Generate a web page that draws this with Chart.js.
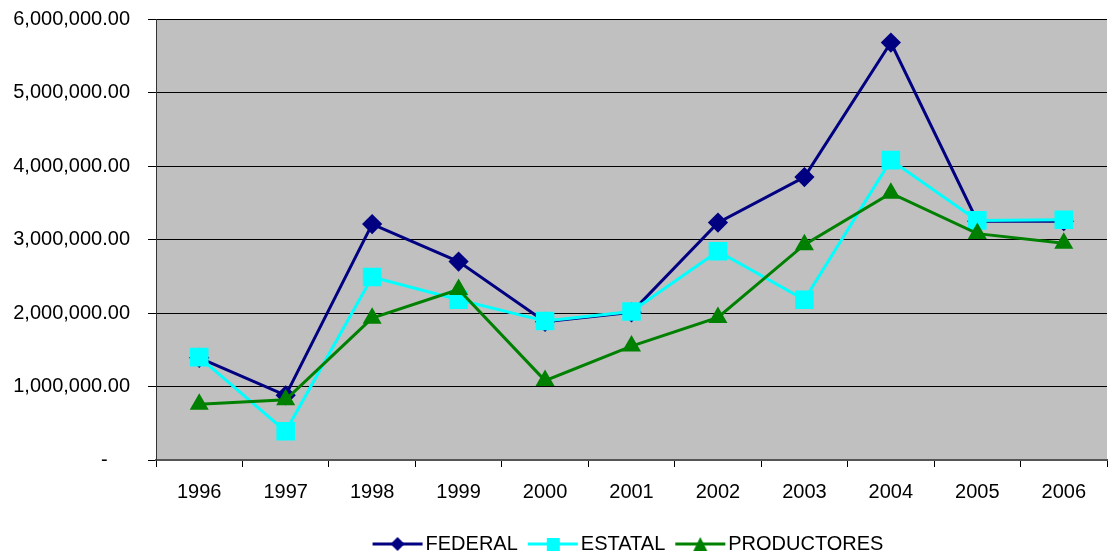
<!DOCTYPE html>
<html>
<head>
<meta charset="utf-8">
<script src="https://cdn.jsdelivr.net/npm/chart.js@4/dist/chart.umd.min.js"></script>
<style>
    html, body { margin: 0; padding: 0; background: #ffffff; overflow: hidden; }
    #wrap { width: 1109px; height: 554px; }
</style>
</head>
<body>
<div id="wrap"><canvas id="lineChart"></canvas></div>
<script>
const years = ['1996', '1997', '1998', '1999', '2000', '2001', '2002', '2003', '2004', '2005', '2006'];
const federal = [1390000, 880000, 3210000, 2700000, 1880000, 2010000, 3230000, 3850000, 5680000, 3250000, 3250000];
const estatal = [1400000, 390000, 2490000, 2180000, 1890000, 2020000, 2840000, 2180000, 4080000, 3260000, 3270000];
const productores = [760000, 820000, 1930000, 2320000, 1080000, 1550000, 1940000, 2930000, 3630000, 3080000, 2950000];

const fontFamily = '"Liberation Sans", Arial, sans-serif';

// little line + marker pictures for the legend
function legendIcon(color, style) {
    const c = document.createElement('canvas');
    c.width = 52;
    c.height = 20;
    const g = c.getContext('2d');
    g.strokeStyle = color;
    g.lineWidth = 3;
    g.beginPath();
    g.moveTo(1, 10);
    g.lineTo(51, 10);
    g.stroke();
    g.fillStyle = color;
    g.beginPath();
    if (style === 'diamond') {
        g.moveTo(26, 3); g.lineTo(33, 10); g.lineTo(26, 17); g.lineTo(19, 10);
    } else if (style === 'square') {
        g.rect(20, 4, 13, 13);
    } else {
        g.moveTo(26, 3); g.lineTo(33, 17); g.lineTo(19, 17);
    }
    g.closePath();
    g.fill();
    return c;
}

const icons = [
    legendIcon('#000080', 'diamond'),
    legendIcon('#00FFFF', 'square'),
    legendIcon('#008000', 'triangle')
];

const plotBackground = {
    id: 'plotBackground',
    beforeDraw(chart) {
        const a = chart.chartArea;
        const ctx = chart.ctx;
        ctx.save();
        ctx.fillStyle = '#C0C0C0';
        ctx.fillRect(a.left, a.top, a.right - a.left, a.bottom - a.top);
        ctx.restore();
    }
};

const ctx = document.getElementById('lineChart').getContext('2d');
new Chart(ctx, {
    type: 'line',
    data: {
        labels: years,
        datasets: [{
            label: 'FEDERAL',
            data: federal,
            borderColor: '#000080',
            backgroundColor: '#000080',
            borderWidth: 3,
            pointStyle: 'rectRot',
            pointRadius: 8,
            tension: 0,
            order: 3
        }, {
            label: 'ESTATAL',
            data: estatal,
            borderColor: '#00FFFF',
            backgroundColor: '#00FFFF',
            borderWidth: 3,
            pointStyle: 'rect',
            pointRadius: 11,
            tension: 0,
            order: 2
        }, {
            label: 'PRODUCTORES',
            data: productores,
            borderColor: '#008000',
            backgroundColor: '#008000',
            borderWidth: 3,
            pointStyle: 'triangle',
            pointRadius: 8,
            tension: 0,
            order: 1
        }]
    },
    options: {
        responsive: true,
        maintainAspectRatio: false,
        animation: false,
        layout: {
            autoPadding: false,
            padding: { left: 0, right: 2, top: 19, bottom: -10 }
        },
        plugins: {
            legend: {
                position: 'bottom',
                fullSize: false,
                labels: {
                    color: '#000000',
                    font: { family: fontFamily, size: 20 },
                    usePointStyle: true,
                    pointStyleWidth: 36,
                    padding: 17,
                    generateLabels: function(chart) {
                        return chart.data.datasets.map(function(ds, i) {
                            return {
                                text: ds.label,
                                fillStyle: ds.backgroundColor,
                                strokeStyle: ds.borderColor,
                                pointStyle: icons[i],
                                datasetIndex: i,
                                fontColor: '#000000',
                                hidden: false
                            };
                        });
                    }
                }
            },
            tooltip: { enabled: false }
        },
        scales: {
            x: {
                offset: true,
                afterFit: function(scale) {
                    scale.height = 57;
                    scale.paddingLeft = 0;
                    scale.paddingRight = 0;
                },
                grid: {
                    offset: true,
                    drawOnChartArea: false,
                    color: '#000000',
                    tickLength: 7
                },
                border: { color: '#555555', width: 2 },
                ticks: {
                    color: '#000000',
                    font: { family: fontFamily, size: 20 },
                    padding: 13,
                    maxRotation: 0
                }
            },
            y: {
                min: 0,
                max: 6000000,
                afterFit: function(scale) {
                    scale.width = 156;
                    scale.paddingTop = 0;
                    scale.paddingBottom = 0;
                },
                grid: {
                    color: '#000000',
                    lineWidth: 1,
                    tickLength: 8
                },
                border: { color: '#333333', width: 1 },
                ticks: {
                    stepSize: 1000000,
                    color: '#000000',
                    font: { family: fontFamily, size: 20 },
                    padding: 18,
                    callback: function(value) {
                        if (value === 0) return '-    ';
                        return value.toLocaleString('en-US', { minimumFractionDigits: 2, maximumFractionDigits: 2 });
                    }
                }
            }
        }
    },
    plugins: [plotBackground]
});
</script>
</body>
</html>
